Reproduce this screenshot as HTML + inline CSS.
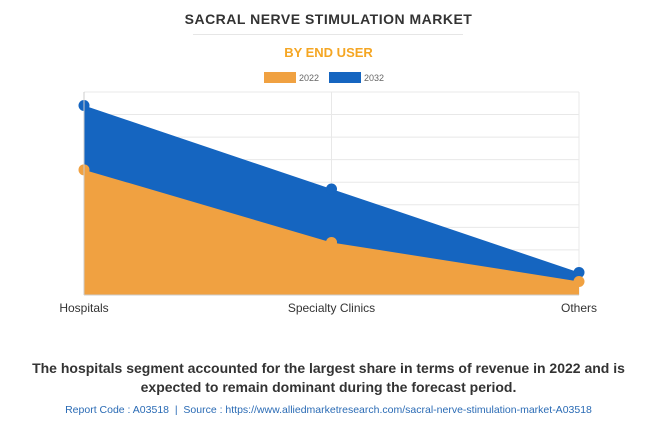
<!DOCTYPE html>
<html><head><meta charset="utf-8"><style>
body{margin:0;width:657px;height:426px;background:#fff;font-family:"Liberation Sans",sans-serif;overflow:hidden;position:relative}
.t{position:absolute;left:0;width:657px;text-align:center}
</style></head><body>
<div class="t" style="top:11px;font-size:14px;font-weight:bold;color:#333;letter-spacing:0.5px">SACRAL NERVE STIMULATION MARKET</div>
<div style="position:absolute;left:193px;top:34px;width:270px;height:1px;background:#e6e6e6"></div>
<div class="t" style="top:45px;font-size:13px;font-weight:bold;color:#f5a623">BY END USER</div>
<svg id="c" width="657" height="426" style="position:absolute;left:0;top:0"></svg>
<div class="t" style="top:359px;font-size:14px;font-weight:bold;color:#333;line-height:19px">The hospitals segment accounted for the largest share in terms of revenue in 2022 and is<br>expected to remain dominant during the forecast period.</div>
<div class="t" style="top:404px;font-size:10.5px;color:#2a6bb5">Report Code : A03518 &nbsp;|&nbsp; Source : https://www.alliedmarketresearch.com/sacral-nerve-stimulation-market-A03518</div>
<script>
const categories=["Hospitals","Specialty Clinics","Others"];
const s2022=[5.55,2.33,0.6];
const s2032=[8.4,4.7,1.0];
const gridCount=9;
const svg=document.getElementById('c');const NS='http://www.w3.org/2000/svg';
const x0=84,x1=579,yB=295,yT=92;
const xs=i=>x0+(x1-x0)*i/(categories.length-1);
const ys=v=>yB-(yB-yT)*v/gridCount;
function mk(t,a){const e=document.createElementNS(NS,t);for(const k in a)e.setAttribute(k,a[k]);svg.appendChild(e);return e;}
for(let g=0;g<=gridCount;g++){const l=mk('line',{x1:x0,x2:x1,y1:ys(g),y2:ys(g),stroke:'#e8e8e8'});

}
categories.forEach((c,i)=>{const l=mk('line',{x1:xs(i),x2:xs(i),y1:yT,y2:yB,stroke:'#e8e8e8'});


const t=mk('text',{x:xs(i),y:312,'text-anchor':'middle','font-size':12,fill:'#333','font-family':'Liberation Sans'});t.textContent=c;

});
function area(d,col,name){let p=`M${xs(0)},${yB}`;d.forEach((v,i)=>p+=`L${xs(i)},${ys(v)}`);p+=`L${xs(d.length-1)},${yB}Z`;
const a=mk('path',{d:p,fill:col});


d.forEach((v,i)=>{const c=mk('circle',{cx:xs(i),cy:ys(v),r:5.5,fill:col});

});}
area(s2032,'#1565c0','series-2032');
area(s2022,'#f0a141','series-2022');
mk('line',{x1:x0,x2:x0,y1:yT,y2:yB,stroke:'#ccc'});
mk('line',{x1:x0,x2:x1,y1:yB,y2:yB,stroke:'#ccc'});
[[264,'#f0a141','2022'],[329,'#1565c0','2032']].forEach(([x,c,l])=>{const r=mk('rect',{x:x,y:72,width:32,height:11,fill:c});


const t=mk('text',{x:x+35,y:81,'font-size':9,fill:'#666','font-family':'Liberation Sans'});t.textContent=l;

});
</script>
</body></html>
